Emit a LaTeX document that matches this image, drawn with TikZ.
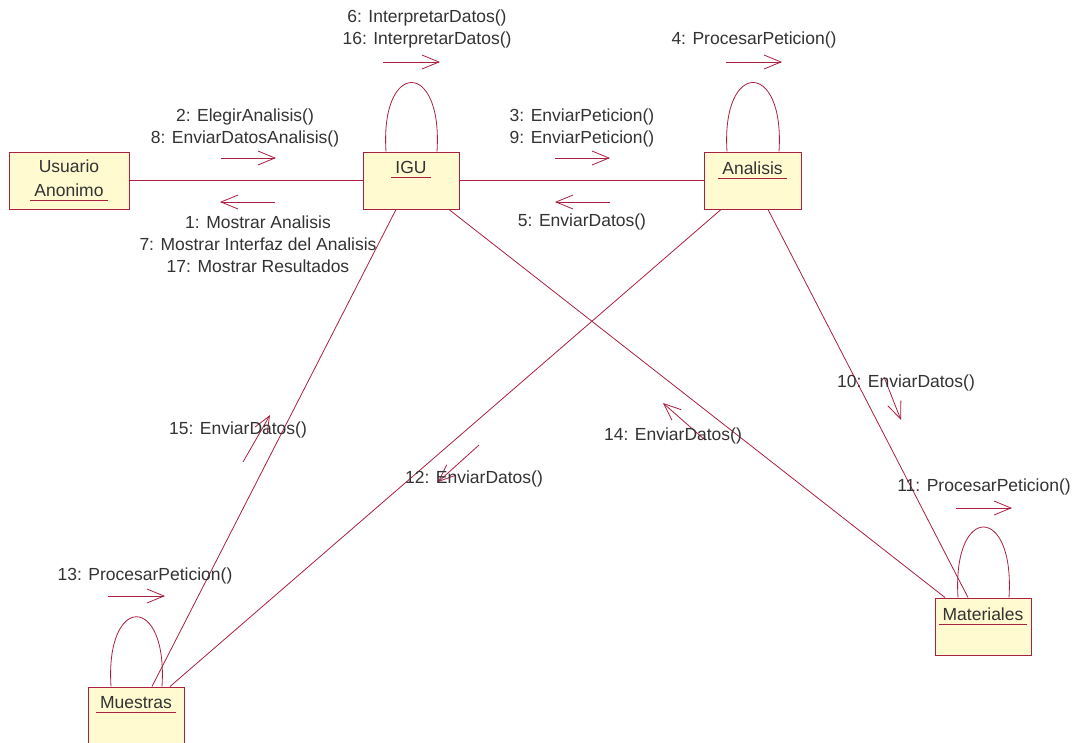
\documentclass[tikz,border=0pt]{standalone}
\usepackage{fontspec}
\setmainfont{Liberation Sans}
\usetikzlibrary{arrows.meta}
\usetikzlibrary{positioning}

\definecolor{rojo}{RGB}{170,32,64}
\definecolor{amarillo}{RGB}{255,250,208}
\definecolor{gris}{RGB}{51,51,51}

% nombre de clase subrayado en rojo
\newcommand{\subrayado}[1]{\setbox0\hbox{#1}\rlap{\kern-4pt\textcolor{rojo}{\rule[-4.5pt]{\dimexpr\wd0+8pt\relax}{1pt}}}\box0}

\begin{document}
\begin{tikzpicture}[x=1pt, y=-1pt,
		font=\fontsize{17.5}{22}\selectfont, text=gris,
		clase/.style={draw=rojo, fill=amarillo, line width=1pt, minimum width=96pt, minimum height=57pt, inner sep=0pt},
		nombre/.style={inner sep=0pt},
		enlace/.style={draw=rojo, line width=0.8pt},
		mensaje/.style={draw=rojo, line width=0.8pt, -{Straight Barb[length=17pt,width=14pt]}},
		etiqueta/.style={align=center, inner sep=0pt}]

		\fill[white] (0,0) rectangle (1087,742);
		\useasboundingbox (0,0) rectangle (1087,742);

		% objetos
		\node[clase, minimum width=120pt, align=center] (usuario) at (69,180.5) {\raisebox{-2pt}{Usuario}\\[2pt]\raisebox{-2pt}{\subrayado{Anonimo}}};
		\node[clase] (igu) at (411,180.5) {};
		\node[nombre, below=10pt of igu.north] (igu-n) {\subrayado{IGU}};
		\node[clase, minimum width=97pt] (analisis) at (752.5,180.5) {};
		\node[nombre, below=10pt of analisis.north] (analisis-n) {\subrayado{Analisis}};
		\node[clase] (materiales) at (983,626.5) {};
		\node[nombre, below=10pt of materiales.north] (materiales-n) {\subrayado{Materiales}};
		\node[clase, minimum height=62pt] (muestras) at (136,718) {};
		\node[nombre, below=10pt of muestras.north] (muestras-n) {\subrayado{Muestras}};

		% enlaces
		\draw[enlace] (usuario) -- (igu);
		\draw[enlace] (igu) -- (analisis);
		\draw[enlace] ([xshift=-15pt]igu.south) -- ([xshift=16pt]muestras.north);
		\draw[enlace] ([xshift=38pt]igu.south) -- ([xshift=-38pt]materiales.north);
		\draw[enlace] ([xshift=-31.5pt]analisis.south) -- ([xshift=34pt]muestras.north);
		\draw[enlace] ([xshift=15.5pt]analisis.south) -- ([xshift=-15pt]materiales.north);

		% enlaces reflexivos
		\draw[enlace] ([xshift=-25pt]igu.north) .. controls +(-6,-92) and +(6,-92) .. ([xshift=26pt]igu.north);
		\draw[enlace] ([xshift=-25.5pt]analisis.north) .. controls +(-6,-92) and +(6,-92) .. ([xshift=26.5pt]analisis.north);
		\draw[enlace] ([xshift=-25pt]materiales.north) .. controls +(-6,-94) and +(6,-94) .. ([xshift=26pt]materiales.north);
		\draw[enlace] ([xshift=-25pt]muestras.north) .. controls +(-6,-93) and +(6,-93) .. ([xshift=26pt]muestras.north);

		% mensajes
		\draw[mensaje] (221,158) coordinate (m2i) -- (276,158) coordinate (m2f);
		\node[etiqueta] (t2) at (245,128) {2: ElegirAnalisis()\\8: EnviarDatosAnalisis()};

		\draw[mensaje] (275,202) coordinate (m1i) -- (220,202) coordinate (m1f);
		\node[etiqueta] (t1) at (258,244) {1: Mostrar Analisis\\7: Mostrar Interfaz del Analisis\\17: Mostrar Resultados};

		\draw[mensaje] (555,158) coordinate (m3i) -- (610,158) coordinate (m3f);
		\node[etiqueta] (t3) at (582,128) {3: EnviarPeticion()\\9: EnviarPeticion()};

		\draw[mensaje] (610,202) coordinate (m5i) -- (555,202) coordinate (m5f);
		\node[etiqueta] (t5) at (582,222) {5: EnviarDatos()};

		\draw[mensaje] (383,62) coordinate (m6i) -- (440,62) coordinate (m6f);
		\node[etiqueta] (t6) at (427,29) {6: InterpretarDatos()\\16: InterpretarDatos()};

		\draw[mensaje] (726,62) coordinate (m4i) -- (782,62) coordinate (m4f);
		\node[etiqueta] (t4) at (754,40) {4: ProcesarPeticion()};

		\draw[mensaje] (884,377) coordinate (m10i) -- (901,420) coordinate (m10f);
		\node[etiqueta] (t10) at (906,383) {10: EnviarDatos()};

		\draw[mensaje] (956,508) coordinate (m11i) -- (1012,508) coordinate (m11f);
		\node[etiqueta] (t11) at (984,487) {11: ProcesarPeticion()};

		\draw[mensaje] (479,445) coordinate (m12i) -- (438,482) coordinate (m12f);
		\node[etiqueta] (t12) at (474,479) {12: EnviarDatos()};

		\draw[mensaje] (108,596) coordinate (m13i) -- (165,596) coordinate (m13f);
		\node[etiqueta] (t13) at (145,576) {13: ProcesarPeticion()};

		\draw[mensaje] (705,440) coordinate (m14i) -- (663,403) coordinate (m14f);
		\node[etiqueta] (t14) at (673,436) {14: EnviarDatos()};

		\draw[mensaje] (243,462) coordinate (m15i) -- (270,415) coordinate (m15f);
		\node[etiqueta] (t15) at (238,430) {15: EnviarDatos()};

\end{tikzpicture}
\end{document}
